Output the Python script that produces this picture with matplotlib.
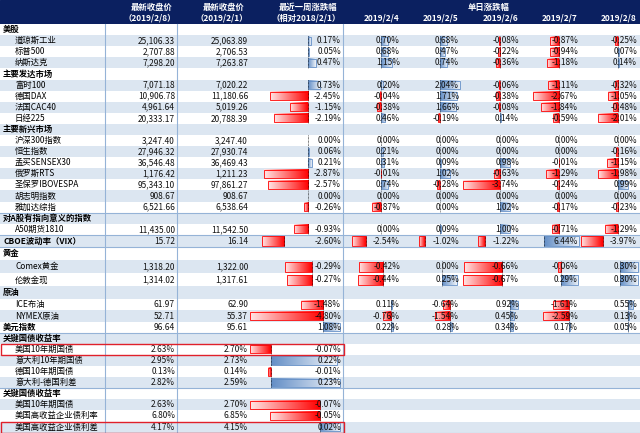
import numpy as np
import matplotlib.pyplot as plt
from matplotlib.patches import Rectangle

plt.rcParams['font.family'] = ['Noto Sans CJK SC', 'DejaVu Sans']

# ---- data -------------------------------------------------------------
labels = [
    "美股", "道琼斯工业", "标普500", "纳斯达克",
    "主要发达市场", "富时100", "德国DAX", "法国CAC40", "日经225",
    "主要新兴市场", "沪深300指数", "恒生指数", "孟买SENSEX30", "俄罗斯RTS",
    "圣保罗IBOVESPA", "胡志明指数", "雅加达综指",
    "对A股有指向意义的指数", "A50期货1810", "CBOE波动率（VIX）",
    "黄金", "Comex黄金", "伦敦金现",
    "原油", "ICE布油", "NYMEX原油", "美元指数",
    "关键国债收益率", "美国10年期国债", "意大利10年期国债", "德国10年期国债", "意大利-德国利差",
    "关键国债收益率", "美国10年期国债", "美国高收益企业债利率", "美国高收益企业债利差",
]
# bold, left-aligned rows
bold_rows = [0, 4, 9, 17, 19, 20, 23, 26, 27, 32]

close_0208 = [None, 25106.33, 2707.88, 7298.20,
              None, 7071.18, 10906.78, 4961.64, 20333.17,
              None, 3247.40, 27946.32, 36546.48, 1176.42, 95343.10, 908.67, 6521.66,
              None, 11435.00, 15.72,
              None, 1318.20, 1314.02,
              None, 61.97, 52.71, 96.64,
              None, 2.63, 2.95, 0.13, 2.82,
              None, 2.63, 6.80, 4.17]
close_0201 = [None, 25063.89, 2706.53, 7263.87,
              None, 7020.22, 11180.66, 5019.26, 20788.39,
              None, 3247.40, 27930.74, 36469.43, 1211.23, 97861.27, 908.67, 6538.64,
              None, 11542.50, 16.14,
              None, 1322.00, 1317.61,
              None, 62.90, 55.37, 95.61,
              None, 2.70, 2.73, 0.14, 2.59,
              None, 2.70, 6.85, 4.15]
week_chg = [None, 0.17, 0.05, 0.47,
            None, 0.73, -2.45, -1.15, -2.19,
            None, 0.00, 0.06, 0.21, -2.87, -2.57, 0.00, -0.26,
            None, -0.93, -2.60,
            None, -0.29, -0.27,
            None, -1.48, -4.80, 1.08,
            None, -0.07, 0.22, -0.01, 0.23,
            None, -0.07, -0.05, 0.02]

dates = ["2019/2/4", "2019/2/5", "2019/2/6", "2019/2/7", "2019/2/8"]
chg_0204 = [None, 0.70, 0.68, 1.15, None, 0.20, -0.04, -0.38, 0.46,
            None, 0.00, 0.21, 0.31, -0.01, 0.74, 0.00, -0.87,
            None, 0.00, -2.54, None, -0.42, -0.44, None, 0.11, -0.76, 0.22]
chg_0205 = [None, 0.68, 0.47, 0.74, None, 2.04, 1.71, 1.66, -0.19,
            None, 0.00, 0.00, 0.09, 1.02, -0.28, 0.00, 0.00,
            None, 0.09, -1.02, None, 0.00, 0.25, None, -0.64, -1.54, 0.28]
chg_0206 = [None, -0.08, -0.22, -0.36, None, -0.06, -0.38, -0.08, 0.14,
            None, 0.00, 0.00, 0.98, -0.63, -3.74, 0.00, 1.02,
            None, 1.00, -1.22, None, -0.66, -0.67, None, 0.92, 0.45, 0.34]
chg_0207 = [None, -0.87, -0.94, -1.18, None, -1.11, -2.67, -1.84, -0.59,
            None, 0.00, 0.00, -0.01, -1.29, -0.24, 0.00, -0.17,
            None, -0.71, 6.44, None, -0.06, 0.29, None, -1.61, -2.59, 0.17]
chg_0208 = [None, -0.25, 0.07, 0.14, None, -0.32, -1.05, -0.48, -2.01,
            None, 0.00, -0.16, -1.15, -1.98, 0.99, 0.00, -0.23,
            None, -1.29, -3.97, None, 0.30, 0.30, None, 0.55, 0.13, 0.05]
daily = [chg_0204, chg_0205, chg_0206, chg_0207, chg_0208]

# rows sharing one data-bar scale (like one Excel conditional format)
bar_group = [None, "eq", "eq", "eq", None, "eq", "eq", "eq", "eq",
             None, "eq", "eq", "eq", "eq", "eq", "eq", "eq",
             None, "eq", "vix", None, "gold", "gold", None, "oil", "oil", "oil",
             None, "b1", "b1", "b1", "b1", None, "b2", "b2", "b2"]
yield_from = 28  # rows from here on are yields, shown in %
boxed_rows = [28, 35]

# ---- layout ------------------------------------------------------------
W, H = 640, 433
header_h = 24
row_h = [11.1] * 19 + [12.5] + [13] * 4 + [11.1] * 12
tops = header_h + np.concatenate([[0], np.cumsum(row_h)[:-1]])
centers = tops + np.array(row_h) / 2

navy = "#0b2060"
stripe = "#dce6f1"
grid_c = "#95b3d7"
red = "#ff0000"
blue = "#638ec6"
fs = 6

x_c1, x_c2, x_wk = 175, 248, 341
wk_span = (250, 340)
day_left = [343, 402, 462, 521, 580]
day_w = 59


def grad(color, reverse):
    c = np.array(plt.matplotlib.colors.to_rgb(color))
    t = np.linspace(0, 0.9, 64)[:, None]
    g = c * (1 - t) + t
    if reverse:
        g = g[::-1]
    return g[None, :, :]


def fmt(v, pct):
    if v is None:
        return ""
    return f"{v:.2f}%" if pct else f"{v:,.2f}"


fig = plt.figure(figsize=(6.4, 4.33), dpi=100)
ax = fig.add_axes([0, 0, 1, 1])
ax.set_xlim(0, W)
ax.set_ylim(H, 0)
ax.axis("off")

# header
ax.add_patch(Rectangle((0, 0), W, header_h, color=navy, zorder=1))
hd = dict(color="white", fontsize=fs, fontweight="bold", ha="center", va="center", zorder=5)
ax.text(152, 7, "最新收盘价", **hd)
ax.text(150, 18, "（2019/2/8）", **hd)
ax.text(224, 7, "最新收盘价", **hd)
ax.text(222, 18, "（2019/2/1）", **hd)
ax.text(308, 7, "最近一周涨跌幅", **hd)
ax.text(306, 18, "（相对2018/2/1）", **hd)
ax.text(489, 7, "单日涨跌幅", **hd)
for left, d in zip(day_left, dates):
    ax.text(left + 39, 18, d, **hd)

# row stripes
for i, (t, h) in enumerate(zip(tops, row_h)):
    ax.add_patch(Rectangle((0, t), W, h, color="white" if i % 2 == 0 else stripe, lw=0, zorder=1))

# data bars: each group shares one scale over the weekly and daily columns
ranges = {}
for i, g in enumerate(bar_group):
    if g is None:
        continue
    vals = [week_chg[i]] + [col[i] for col in daily if i < len(col) and col[i] is not None]
    lo, hi = ranges.get(g, (0.0, 0.0))
    ranges[g] = (min(lo, min(vals)), max(hi, max(vals)))


def draw_bar(v, span, lo, hi, top, h):
    x0, x1 = span
    scale = (x1 - x0) / (hi - lo)
    axis_x = x0 - lo * scale
    end = axis_x + v * scale
    y0, y1 = top + 1.5, top + h - 1.5
    ax.plot([axis_x, axis_x], [top + 0.5, top + h - 0.5], color="black", lw=0.5, ls=(0, (1, 1)), zorder=4)
    if v == 0:
        return
    color = red if v < 0 else blue
    a, b = sorted([axis_x, end])
    ax.imshow(grad(color, v < 0), extent=[a, b, y1, y0], aspect="auto", zorder=2, interpolation="bilinear")
    ax.add_patch(Rectangle((a, y0), b - a, y1 - y0, fill=False, ec=color, lw=0.6, zorder=3))


for i, g in enumerate(bar_group):
    if g is None:
        continue
    lo, hi = ranges[g]
    draw_bar(week_chg[i], wk_span, lo, hi, tops[i], row_h[i])
    for k, col in enumerate(daily):
        if i < len(col) and col[i] is not None:
            draw_bar(col[i], (day_left[k] + 1, day_left[k] + day_w - 1), lo, hi, tops[i], row_h[i])

# text
for i, lab in enumerate(labels):
    y = centers[i]
    if i in bold_rows:
        ax.text(3, y, lab, fontsize=fs, fontweight="bold", va="center", zorder=5)
    else:
        ax.text(15, y, lab, fontsize=fs, va="center", zorder=5)
    pct = i >= yield_from
    num = dict(fontsize=fs, ha="right", va="center", zorder=5, color="#111111")
    ax.text(x_c1, y, fmt(close_0208[i], pct), **num)
    ax.text(x_c2, y, fmt(close_0201[i], pct), **num)
    ax.text(x_wk, y, fmt(week_chg[i], True), **num)
    for k, col in enumerate(daily):
        if i < len(col):
            ax.text(day_left[k] + day_w - 2, y, fmt(col[i], True), **num)

# grid lines
for x in (105, 177, 343):
    ax.plot([x, x], [header_h, H], color=grid_c, lw=0.8, zorder=4)
for r in (17, 19, 20, 27, 32):
    ax.plot([0, W], [tops[r], tops[r]], color=grid_c, lw=0.8, zorder=4)
ax.plot([0, W], [H - 0.5, H - 0.5], color=grid_c, lw=0.8, zorder=4)

for r in boxed_rows:
    ax.add_patch(Rectangle((0.5, tops[r]), 343, row_h[r], fill=False, ec="#e0202a", lw=1.0, zorder=6))

fig.savefig("out.png", dpi=100)
